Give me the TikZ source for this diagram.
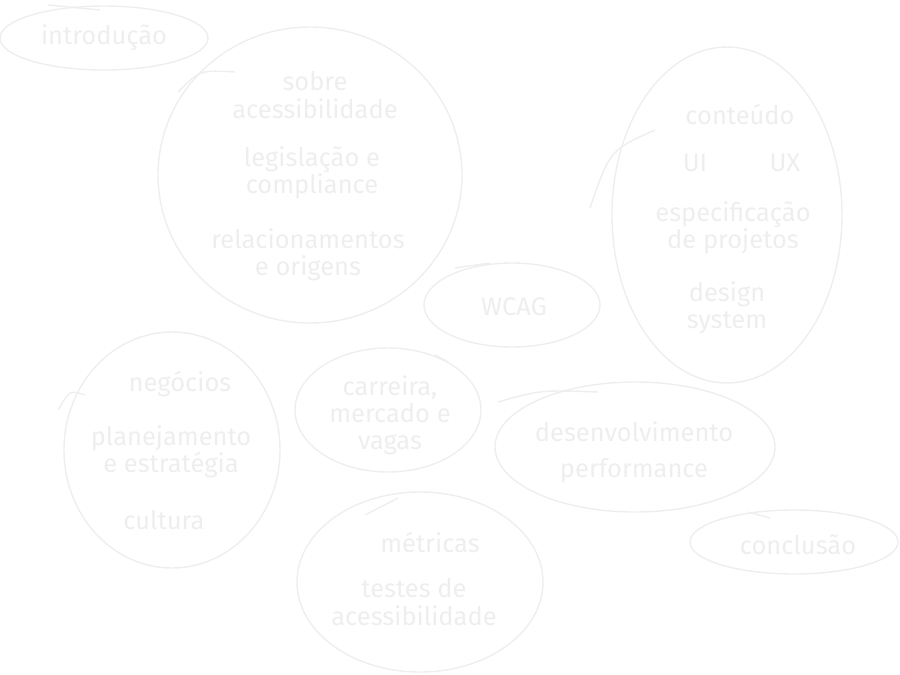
\documentclass[tikz,border=0pt]{standalone}
\usepackage{fontspec}
\setmainfont{Fira Sans}
\usepackage{tikz}
\usetikzlibrary{shapes,positioning}
\definecolor{chalk}{HTML}{EEEEEE}

\begin{document}
\begin{tikzpicture}[x=0.02cm,y=-0.02cm,topic/.style={text=chalk,font=\fontsize{14.5}{15.5}\selectfont,align=center}]
        \tikzstyle{blob} = [draw=chalk, line width=0.8pt]
        \useasboundingbox (0,0) rectangle (900,674);
        % outlines
        \draw[blob] (104,38) ellipse (104 and 32);
        \draw[blob] (310,175) ellipse (152 and 148);
        \draw[blob] (512,305) ellipse (88 and 42);
        \draw[blob] (727,215) ellipse (115 and 168);
        \draw[blob] (172,450) ellipse (108 and 118);
        \draw[blob] (388,410) ellipse (93 and 62);
        \draw[blob] (635,447) ellipse (140 and 65);
        \draw[blob] (420,582) ellipse (123 and 90);
        \draw[blob] (794,542) ellipse (104 and 32);
        % loose strokes
        \draw[blob] (48,5) -- (100,10);
        \draw[blob] (178,92) .. controls (200,70) .. (235,72);
        \draw[blob] (455,268) -- (490,263);
        \draw[blob] (590,208) .. controls (610,150) .. (655,130);
        \draw[blob] (58,410) .. controls (70,390) .. (85,395);
        \draw[blob] (435,355) -- (448,362);
        \draw[blob] (498,402) .. controls (540,390) .. (598,392);
        \draw[blob] (365,515) -- (398,498);
        \draw[blob] (748,512) -- (770,518);
        % labels
        \node[topic] (intro) at (104,38) {introdução};
        \node[topic] (sobre) at (315,95) {sobre\\acessibilidade};
        \node[topic] (legis) at (312,173) {legislação e\\compliance};
        \node[topic] (relac) at (308,255) {relacionamentos\\e origens};
        \node[topic] (wcag) at (514,307) {WCAG};
        \node[topic] (cont) at (740,114) {conteúdo};
        \node[topic] (ui) at (695,163) {UI};
        \node[topic, right = 1cm of ui] (ux) {UX};
        \node[topic] (espec) at (733,228) {especificação\\de projetos};
        \node[topic] (design) at (727,308) {design\\system};
        \node[topic] (neg) at (180,384) {negócios};
        \node[topic] (plan) at (171,452) {planejamento\\e estratégia};
        \node[topic] (cult) at (164,520) {cultura};
        \node[topic] (carr) at (390,415) {carreira,\\mercado e\\vagas};
        \node[topic] (desenv) at (634,432) {desenvolvimento};
        \node[topic] (perf) at (634,471) {performance};
        \node[topic] (metr) at (430,542) {métricas};
        \node[topic] (testes) at (414,602) {testes de\\acessibilidade};
        \node[topic] (concl) at (798,545) {conclusão};
\end{tikzpicture}
\end{document}
